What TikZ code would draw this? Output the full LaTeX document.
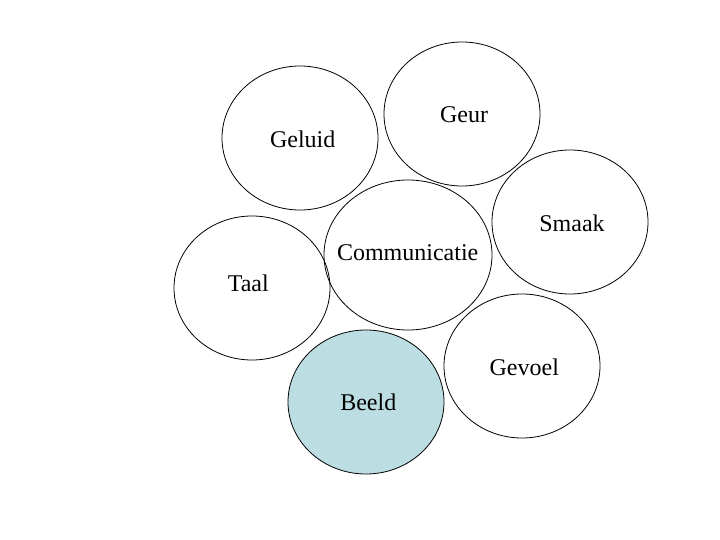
\documentclass[tikz,border=0pt]{standalone}
\usepackage{fontspec}
\setmainfont{Liberation Serif}
\definecolor{beeldblue}{RGB}{188,222,226}
\begin{document}
\begin{tikzpicture}[x=1pt,y=-1pt,
  bubble/.style={draw=black,line width=0.8pt},
  lbl/.style={font=\fontsize{24}{28}\selectfont,inner sep=0pt}]
\useasboundingbox (0,0) rectangle (720,540);
\draw[bubble] (300,138) ellipse [x radius=78,y radius=72];
\draw[bubble] (462,114) ellipse [x radius=78,y radius=72];
\draw[bubble] (570,222) ellipse [x radius=78,y radius=72];
\draw[bubble] (252,288) ellipse [x radius=78,y radius=72];
\draw[bubble] (408,255) ellipse [x radius=84,y radius=75];
\draw[bubble] (522,366) ellipse [x radius=78,y radius=72];
\draw[bubble,fill=beeldblue] (366,402) ellipse [x radius=78,y radius=72];
\node[lbl] (geluid) at (302.7,139) {Geluid};
\node[lbl] (geur) at (464,115) {Geur};
\node[lbl] (smaak) at (572,223) {Smaak};
\node[lbl] (comm) at (407.7,253) {Communicatie};
\node[lbl] (taal) at (248.3,283.3) {Taal};
\node[lbl] (gevoel) at (524.3,367.3) {Gevoel};
\node[lbl] (beeld) at (368.3,402.7) {Beeld};
\end{tikzpicture}
\end{document}
